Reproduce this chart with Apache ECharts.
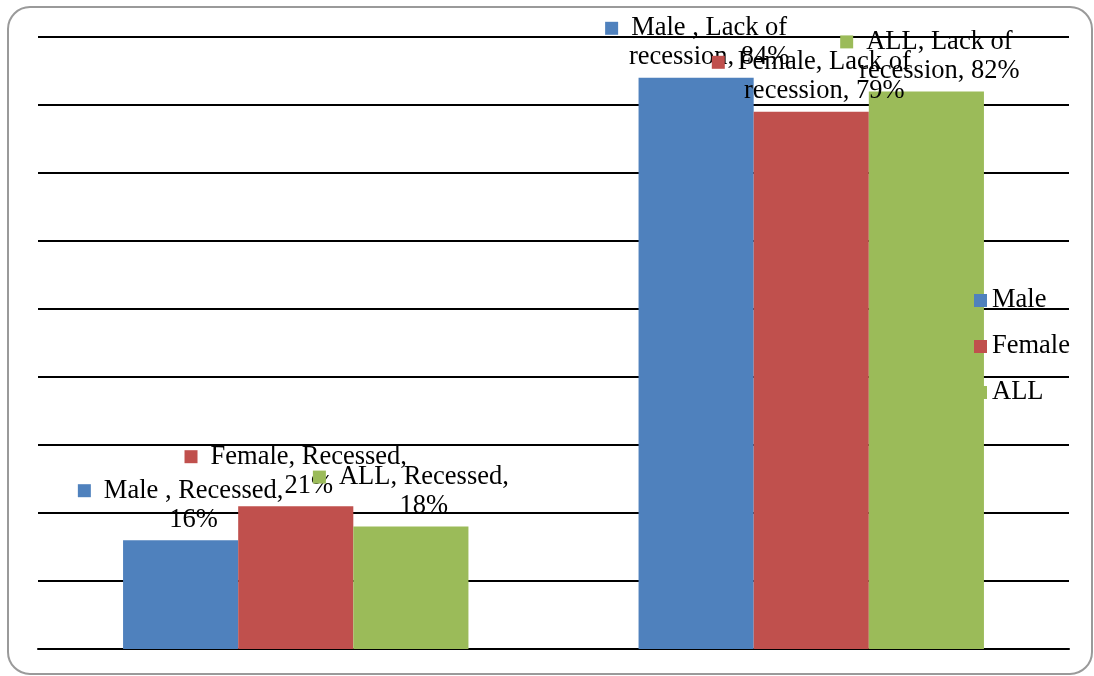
<!DOCTYPE html>
<html>
<head>
<meta charset="utf-8">
<script src="https://cdn.jsdelivr.net/npm/echarts@6/dist/echarts.min.js"></script>
<style>
  html, body { margin: 0; padding: 0; background: #fff; }
  #chart { width: 1094px; height: 676px; }
</style>
</head>
<body>
<div id="chart"></div>
<script>
// Share of recession by sex (percent)
const categories = ['Recessed', 'Lack of recession'];
const seriesNames = ['Male', 'Female', 'ALL'];
const labelNames = ['Male ', 'Female', 'ALL'];
const maleValues = [16, 84];
const femaleValues = [21, 79];
const allValues = [18, 82];
const colors = ['#4F81BD', '#C0504D', '#9BBB59'];

const FONT = "'Liberation Serif', 'Times New Roman', serif";

// greedy word wrap of a label into lines of at most maxChars characters
function wrap(text, maxChars) {
  const words = text.split(' ');
  const lines = [];
  let cur = '';
  words.forEach(w => {
    const next = cur ? cur + ' ' + w : w;
    if (next.length > maxChars && cur) { lines.push(cur); cur = w; }
    else cur = next;
  });
  if (cur) lines.push(cur);
  return lines;
}

function makeSeries(idx, values) {
  const color = colors[idx];
  return {
    name: seriesNames[idx],
    type: 'bar',
    data: values,
    barGap: '0%',
    barCategoryGap: '33%',
    itemStyle: { color: color },
    label: {
      show: true,
      position: 'top',
      distance: 6,
      formatter: p => {
        const lines = wrap(labelNames[idx] + ', ' + categories[p.dataIndex] + ', ' + p.value + '%', 17);
        let s = '{i|}{g|}{t|' + lines[0] + '}';
        for (let k = 1; k < lines.length; k++) s += '\n{u|' + lines[k] + '}';
        return s;
      },
      rich: {
        i: { width: 13, height: 13, backgroundColor: color },
        g: { width: 13 },
        t: { fontFamily: FONT, fontSize: 26.5, color: '#000', lineHeight: 29 },
        u: { fontFamily: FONT, fontSize: 26.5, color: '#000', lineHeight: 29, padding: [0, 0, 0, 26] }
      }
    }
  };
}

const chart = echarts.init(document.getElementById('chart'), null, { renderer: 'canvas' });
chart.setOption({
  backgroundColor: '#fff',
  animation: false,
  grid: { left: 38, right: 25, top: 37, bottom: 27 },
  legend: {
    orient: 'vertical',
    left: 974,
    top: 287,
    padding: 0,
    itemWidth: 13,
    itemHeight: 13,
    itemGap: 19,
    icon: 'rect',
    textStyle: { fontFamily: FONT, fontSize: 26.5, color: '#000', lineHeight: 26 },
    data: seriesNames
  },
  xAxis: {
    type: 'category',
    data: categories,
    axisLine: { show: true, lineStyle: { color: '#000', width: 2 } },
    axisTick: { show: false },
    axisLabel: { show: false }
  },
  yAxis: {
    type: 'value',
    min: 0,
    max: 90,
    interval: 10,
    axisLine: { show: false },
    axisTick: { show: false },
    axisLabel: { show: false },
    splitLine: { show: true, lineStyle: { color: '#000', width: 2 } }
  },
  series: [
    makeSeries(0, maleValues),
    makeSeries(1, femaleValues),
    makeSeries(2, allValues)
  ],
  graphic: [{
    type: 'rect',
    silent: true,
    z: 100,
    shape: { x: 8, y: 7, width: 1084, height: 667, r: 22 },
    style: { fill: 'none', stroke: '#9a9a9a', lineWidth: 2 }
  }]
});
</script>
</body>
</html>
